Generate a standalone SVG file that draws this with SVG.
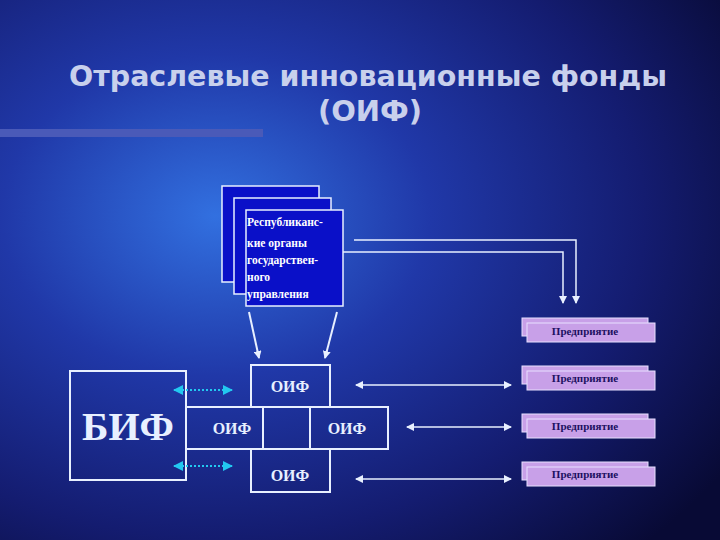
<svg xmlns="http://www.w3.org/2000/svg" width="720" height="540" viewBox="0 0 720 540">
<defs>
<radialGradient id="bg" cx="0.3" cy="0.4" r="0.85">
<stop offset="0" stop-color="#3270e0"/><stop offset="0.35" stop-color="#2038a8"/><stop offset="0.7" stop-color="#141c70"/><stop offset="1" stop-color="#080a35"/>
</radialGradient>
<marker id="a" markerWidth="8" markerHeight="8" refX="7" refY="4" orient="auto-start-reverse" markerUnits="userSpaceOnUse"><path d="M0,0 L8,4 L0,8 z" fill="#e8f0ff"/></marker>
<marker id="c" markerWidth="10" markerHeight="10" refX="9" refY="5" orient="auto-start-reverse" markerUnits="userSpaceOnUse"><path d="M0,0 L10,5 L0,10 z" fill="#22c8f0"/></marker>
<style>
.w{fill:none;stroke:#e8f0ff;stroke-width:2}
.ln{fill:none;stroke:#e8f0ff;stroke-width:1.5}
.t{font-family:"Liberation Serif",serif;font-weight:bold;fill:#e8f0ff}
.rb{fill:#0a10c8;stroke:#e8f0ff;stroke-width:1.5}
.rt{font-family:"Liberation Serif",serif;font-weight:bold;font-size:11.5px;fill:#fff}
.eb{fill:#c8a0e8;stroke:#e8e0ff;stroke-width:1}
.et{font-family:"Liberation Serif",serif;font-weight:bold;font-size:11px;fill:#201060}
.ti{font-family:"DejaVu Sans",sans-serif;font-weight:bold;font-size:29px;fill:#c8d0ec}
</style>
</defs>
<rect width="720" height="540" fill="url(#bg)"/>
<rect x="0" y="129" width="263" height="8" fill="#4a5ab8"/>
<text class="ti" x="368" y="86" text-anchor="middle" textLength="598" lengthAdjust="spacingAndGlyphs">Отраслевые инновационные фонды</text>
<text class="ti" x="370" y="121" text-anchor="middle">(ОИФ)</text>
<g id="republic">
<rect class="rb" x="222" y="186" width="97" height="96"/>
<rect class="rb" x="234" y="198" width="97" height="96"/>
<rect class="rb" x="246" y="210" width="97" height="96"/>
<text class="rt" x="247" y="226">Республиканс-</text>
<text class="rt" x="247" y="247">кие органы</text>
<text class="rt" x="247" y="264">государствен-</text>
<text class="rt" x="247" y="281">ного</text>
<text class="rt" x="247" y="298">управления</text>
</g>
<g id="bif"><rect class="w" x="70" y="371" width="116" height="109"/><text class="t" x="128" y="440" text-anchor="middle" font-size="40">БИФ</text></g>
<g id="oif-top"><rect class="w" x="251" y="365" width="79" height="42"/><text class="t" x="290" y="392" text-anchor="middle" font-size="16">ОИФ</text></g>
<g id="oif-mid"><rect class="w" x="186" y="407" width="202" height="42"/><line class="w" x1="263" y1="407" x2="263" y2="449"/><line class="w" x1="310" y1="407" x2="310" y2="449"/>
<text class="t" x="232" y="434" text-anchor="middle" font-size="16">ОИФ</text><text class="t" x="347" y="434" text-anchor="middle" font-size="16">ОИФ</text></g>
<g id="oif-bot"><rect class="w" x="251" y="449" width="79" height="43"/><text class="t" x="290" y="481" text-anchor="middle" font-size="16">ОИФ</text></g>
<g id="ent1"><rect class="eb" x="522" y="318" width="126" height="18"/><rect class="eb" x="527" y="323" width="128" height="19"/><text class="et" x="585" y="335" text-anchor="middle">Предприятие</text></g>
<g id="ent2"><rect class="eb" x="522" y="366" width="126" height="18"/><rect class="eb" x="527" y="371" width="128" height="19"/><text class="et" x="585" y="382" text-anchor="middle">Предприятие</text></g>
<g id="ent3"><rect class="eb" x="522" y="414" width="126" height="18"/><rect class="eb" x="527" y="419" width="128" height="19"/><text class="et" x="585" y="430" text-anchor="middle">Предприятие</text></g>
<g id="ent4"><rect class="eb" x="522" y="462" width="126" height="18"/><rect class="eb" x="527" y="467" width="128" height="19"/><text class="et" x="585" y="478" text-anchor="middle">Предприятие</text></g>
<g id="connectors">
<polyline class="ln" points="343,252 563,252 563,303" marker-end="url(#a)"/>
<polyline class="ln" points="354,240 576,240 576,303" marker-end="url(#a)"/>
<line class="w" x1="249" y1="312" x2="259" y2="358" marker-end="url(#a)"/>
<line class="w" x1="337" y1="312" x2="325" y2="358" marker-end="url(#a)"/>
<line class="ln" x1="356" y1="385" x2="511" y2="385" marker-start="url(#a)" marker-end="url(#a)"/>
<line class="ln" x1="407" y1="427" x2="511" y2="427" marker-start="url(#a)" marker-end="url(#a)"/>
<line class="ln" x1="356" y1="479" x2="511" y2="479" marker-start="url(#a)" marker-end="url(#a)"/>
<line x1="174" y1="390" x2="232" y2="390" stroke="#22c8f0" stroke-width="2" stroke-dasharray="2,2" marker-start="url(#c)" marker-end="url(#c)"/>
<line x1="174" y1="466" x2="232" y2="466" stroke="#22c8f0" stroke-width="2" stroke-dasharray="2,2" marker-start="url(#c)" marker-end="url(#c)"/>
</g>
</svg>
